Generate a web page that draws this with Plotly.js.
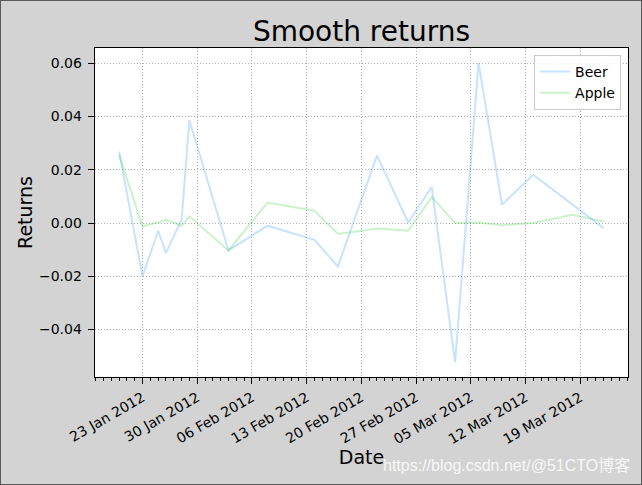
<!DOCTYPE html>
<html>
<head>
<meta charset="utf-8">
<script src="https://cdn.plot.ly/plotly-3.0.1.min.js"></script>
<style>
  html, body { margin: 0; padding: 0; background: #d3d3d3; }
  #wrap { position: relative; width: 642px; height: 485px; }
  #chart { width: 642px; height: 485px; }
  #frame { position: absolute; left: 0; top: 0; width: 642px; height: 485px; box-sizing: border-box; border: 1.5px solid #5a5a5a; pointer-events: none; }
</style>
</head>
<body>
<div id="wrap"><div id="chart"></div><div id="frame"></div></div>
<script>
const dates = ['2012-01-20','2012-01-23','2012-01-25','2012-01-26','2012-01-28','2012-01-29',
               '2012-02-03','2012-02-08','2012-02-14','2012-02-17','2012-02-22','2012-02-26',
               '2012-02-29','2012-03-03','2012-03-06','2012-03-09','2012-03-13','2012-03-18','2012-03-22'];
const beer  = [0.0268,-0.0200,-0.0029,-0.0112,0.0012,0.0386,
               -0.0103,-0.0010,-0.0063,-0.0163,0.0253,0.0002,
               0.0135,-0.0522,0.0601,0.0069,0.0181,0.0070,-0.0019];
const apple = [0.0256,-0.0013,0.0003,0.0012,-0.0010,0.0025,
               -0.0103,0.0077,0.0046,-0.0041,-0.0021,-0.0029,
               0.0097,0.0000,0.0002,-0.0008,0.0000,0.0031,0.0006];
const seriesNames = ['Beer','Apple'];
const titleText = 'Smooth returns';
const xLabel = 'Date';
const yLabel = 'Returns';
const yTicks = [-0.04,-0.02,0.00,0.02,0.04,0.06];

const font = 'DejaVu Sans, Noto Sans CJK SC, sans-serif';

const traces = [
  {x: dates, y: beer, name: seriesNames[0], type: 'scatter', mode: 'lines',
   line: {color: 'rgba(30,144,255,0.25)', width: 2}},
  {x: dates, y: apple, name: seriesNames[1], type: 'scatter', mode: 'lines',
   line: {color: 'rgba(50,205,50,0.25)', width: 2}}
];

const layout = {
  width: 642, height: 485,
  paper_bgcolor: '#d3d3d3',
  plot_bgcolor: '#ffffff',
  margin: {l: 95, r: 14, t: 48, b: 108, pad: 0},
  font: {family: font, size: 14, color: '#000'},
  title: {text: titleText, font: {family: font, size: 28, color: '#000'},
          x: 0.5, xanchor: 'center', xref: 'paper', y: 1 - 31/485, yref: 'container', yanchor: 'middle'},
  showlegend: true,
  legend: {x: 0.987, xanchor: 'right', y: 0.979, yanchor: 'top',
           bgcolor: 'rgba(255,255,255,0.85)', bordercolor: '#cccccc', borderwidth: 1,
           font: {family: font, size: 14, color: '#000'}},
  xaxis: {
    type: 'date',
    range: ['2012-01-16 22:00', '2012-03-25 03:00'],
    tick0: '2012-01-23', dtick: 7*86400000,
    tickformat: '%d %b %Y', tickangle: -30,
    ticks: 'outside', ticklen: 6, tickwidth: 1, tickcolor: '#000',
    minor: {dtick: 86400000, tick0: '2012-01-23', ticks: 'outside', ticklen: 3, tickwidth: 1, tickcolor: '#000', showgrid: false},
    showgrid: true, gridcolor: '#b0b0b0', griddash: '1px,2px', gridwidth: 1,
    showline: true, linecolor: '#000', linewidth: 1.3, mirror: true,
    zeroline: false,
    tickfont: {family: font, size: 14, color: '#000'},
    title: {text: xLabel, font: {family: font, size: 19, color: '#000'}, standoff: 4}
  },
  yaxis: {
    range: [-0.0578, 0.0657],
    tickvals: yTicks, tickformat: '.2f',
    ticks: 'outside', ticklen: 6, tickwidth: 1, tickcolor: '#000',
    ticklabelstandoff: 3,
    showgrid: true, gridcolor: '#b0b0b0', griddash: '1px,2px', gridwidth: 1,
    showline: true, linecolor: '#000', linewidth: 1.3, mirror: true,
    zeroline: false,
    tickfont: {family: font, size: 14, color: '#000'},
    title: {text: yLabel, font: {family: font, size: 19, color: '#000'}, standoff: 1}
  },
  annotations: [
    {text: 'https://blog.csdn.net/@51CTO博客', xref: 'paper', yref: 'paper',
     x: (632 - 95) / 533, xanchor: 'right', y: -(466 - 377) / 329, yanchor: 'middle',
     showarrow: false, font: {family: 'Liberation Sans, Noto Sans CJK SC, sans-serif', size: 16, color: 'rgba(255,255,255,0.85)'}}
  ]
};

Plotly.newPlot('chart', traces, layout, {displayModeBar: false, staticPlot: true});
</script>
</body>
</html>
